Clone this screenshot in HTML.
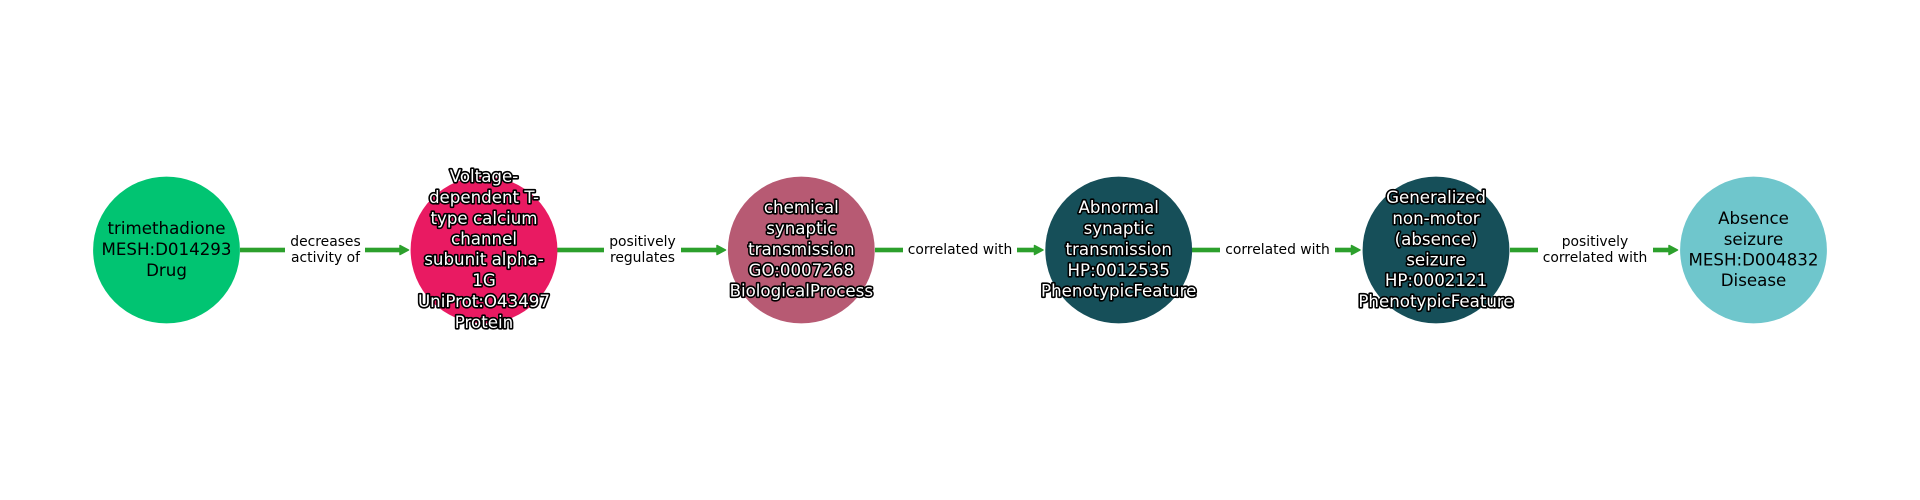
<!DOCTYPE html>
<html>
<head>
<meta charset="utf-8">
<style>
html,body{margin:0;padding:0;background:#fff;width:1920px;height:500px;overflow:hidden}
svg{display:block}
text{font-family:"DejaVu Sans",sans-serif;text-anchor:middle}
.n{font-size:16.67px;fill:#000}
.o{font-size:16.67px;fill:#fff;stroke:#000;stroke-width:3.2px;paint-order:stroke;stroke-linejoin:round}
.e{font-size:13.89px;fill:#000}
.h{stroke:#2ca02c;stroke-width:1.5px;stroke-linejoin:round}
</style>
</head>
<body>
<svg width="1920" height="500" viewBox="0 0 1920 500" xmlns="http://www.w3.org/2000/svg">
<g fill="#2ca02c">
<rect x="240" y="247.7" width="45" height="4.6"/><rect x="365" y="247.7" width="36" height="4.6"/><path class="h" d="M400 245.500L408.500 250L400 254.500Z"/>
<rect x="557" y="247.7" width="47" height="4.6"/><rect x="681" y="247.7" width="37" height="4.6"/><path class="h" d="M717 245.500L725.500 250L717 254.500Z"/>
<rect x="875" y="247.7" width="28" height="4.6"/><rect x="1017" y="247.7" width="18" height="4.6"/><path class="h" d="M1034.500 245.500L1043 250L1034.500 254.500Z"/>
<rect x="1192" y="247.7" width="28" height="4.6"/><rect x="1335" y="247.7" width="17" height="4.6"/><path class="h" d="M1351.500 245.500L1360 250L1351.500 254.500Z"/>
<rect x="1510" y="247.7" width="28" height="4.6"/><rect x="1653" y="247.7" width="17" height="4.6"/><path class="h" d="M1669 245.500L1677.500 250L1669 254.500Z"/>
</g>
<circle cx="166.500" cy="250" r="73.400" fill="#01c472"/>
<circle cx="484" cy="250" r="73.400" fill="#e91a62"/>
<circle cx="801.300" cy="250" r="73.400" fill="#b75a73"/>
<circle cx="1118.700" cy="250" r="73.400" fill="#164f59"/>
<circle cx="1436" cy="250" r="73.400" fill="#164f59"/>
<circle cx="1753.500" cy="250" r="73.400" fill="#6fc6cc"/>

<text class="n" x="166.500" y="234">trimethadione</text>
<text class="n" x="166.500" y="255">MESH:D014293</text>
<text class="n" x="166.500" y="276">Drug</text>

<text class="o" x="484" y="182">Voltage-</text>
<text class="o" x="484" y="203">dependent T-</text>
<text class="o" x="484" y="224">type calcium</text>
<text class="o" x="484" y="244.500">channel</text>
<text class="o" x="484" y="265">subunit alpha-</text>
<text class="o" x="484" y="286">1G</text>
<text class="o" x="484" y="307">UniProt:O43497</text>
<text class="o" x="484" y="328">Protein</text>

<text class="o" x="801.300" y="213">chemical</text>
<text class="o" x="801.300" y="234">synaptic</text>
<text class="o" x="801.300" y="255">transmission</text>
<text class="o" x="801.300" y="276">GO:0007268</text>
<text class="o" x="801.300" y="296.500">BiologicalProcess</text>

<text class="o" x="1118.700" y="213">Abnormal</text>
<text class="o" x="1118.700" y="234">synaptic</text>
<text class="o" x="1118.700" y="255">transmission</text>
<text class="o" x="1118.700" y="276">HP:0012535</text>
<text class="o" x="1118.700" y="296.500">PhenotypicFeature</text>

<text class="o" x="1436" y="203">Generalized</text>
<text class="o" x="1436" y="224">non-motor</text>
<text class="o" x="1436" y="245">(absence)</text>
<text class="o" x="1436" y="265.500">seizure</text>
<text class="o" x="1436" y="286">HP:0002121</text>
<text class="o" x="1436" y="307">PhenotypicFeature</text>

<text class="n" x="1753.500" y="224">Absence</text>
<text class="n" x="1753.500" y="245">seizure</text>
<text class="n" x="1753.500" y="265.500">MESH:D004832</text>
<text class="n" x="1753.500" y="286">Disease</text>

<text class="e" x="325.500" y="246">decreases</text>
<text class="e" x="325.500" y="262">activity of</text>
<text class="e" x="642.500" y="246">positively</text>
<text class="e" x="642.500" y="262">regulates</text>
<text class="e" x="960" y="254">correlated with</text>
<text class="e" x="1277.500" y="254">correlated with</text>
<text class="e" x="1595" y="246">positively</text>
<text class="e" x="1595" y="262">correlated with</text>
</svg>
</body>
</html>
